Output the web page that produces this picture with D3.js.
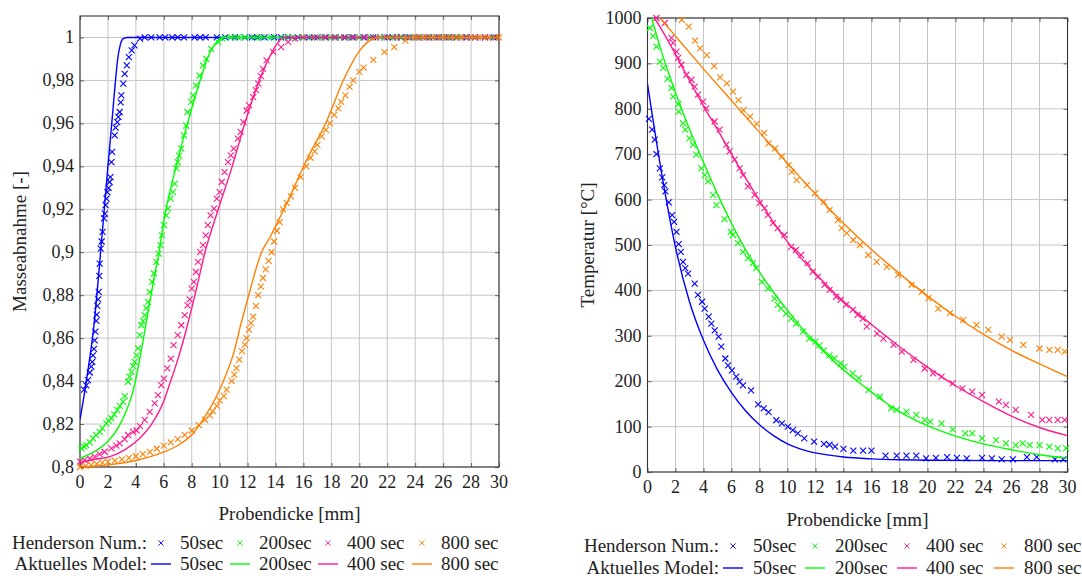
<!DOCTYPE html>
<html>
<head>
<meta charset="utf-8">
<script src="https://cdn.jsdelivr.net/npm/d3@7"></script>
<style>
  body { margin: 0; background: #fff; }
</style>
</head>
<body>
<div id="chart"></div>
<script>

// ---- data ----
var seriesNames = ["50sec", "200sec", "400 sec", "800 sec"];
var seriesColors = ["#0000ff", "#00ff00", "#ff1a8c", "#ff8000"];

var xTicks = [0, 2, 4, 6, 8, 10, 12, 14, 16, 18, 20, 22, 24, 26, 28, 30];
var massTicks = [0.8, 0.82, 0.84, 0.86, 0.88, 0.9, 0.92, 0.94, 0.96, 0.98, 1];
var massTickLabels = ["0,8", "0,82", "0,84", "0,86", "0,88", "0,9", "0,92", "0,94", "0,96", "0,98", "1"];
var tempTicks = [0, 100, 200, 300, 400, 500, 600, 700, 800, 900, 1000];

// Masseabnahme, Henderson numerisch
var mass50Num = [[0.29,0.836],[0.45,0.838],[0.57,0.8405],[0.7,0.844],[0.81,0.8467],[0.88,0.849],[0.93,0.852],[1.0,0.855],[1.05,0.859],[1.1,0.863],[1.17,0.868],[1.2,0.871],[1.24,0.875],[1.3,0.878],[1.34,0.8815],[1.38,0.889],[1.41,0.8947],[1.48,0.9017],[1.55,0.905],[1.62,0.9095],[1.72,0.9158],[1.78,0.918],[1.83,0.9219],[1.9,0.925],[1.96,0.928],[2.05,0.93],[2.12,0.9327],[2.18,0.935],[2.25,0.942],[2.3,0.9467],[2.48,0.9544],[2.55,0.958],[2.67,0.9606],[2.75,0.963],[2.84,0.9653],[2.91,0.9698],[2.96,0.973],[3.1,0.9785],[3.2,0.9831],[3.35,0.987],[3.5,0.9909],[3.7,0.994],[3.9,0.9963],[4.3,0.9995],
  [4.63,1.0],[5.1,1.0],[5.7,1.0],[6.1,1.0],[6.6,1.0],[7.0,1.0],[7.45,1.0],[8.2,1.0],[8.6,1.0],[9.0,1.0],[9.8,1.0],[10.4,1.0],[11.1,1.0],[11.8,1.0],[12.3,1.0],[12.7,1.0],[13.2,1.0],[13.9,1.0],[14.4,1.0],[14.9,1.0],[15.6,1.0],[16.4,1.0],[17.0,1.0],[17.6,1.0],[18.3,1.0],[19.0,1.0],[19.5,1.0],[20.3,1.0],[21.0,1.0],[21.8,1.0],[22.4,1.0],[23.0,1.0],[23.6,1.0],[24.3,1.0],[25.0,1.0],[25.7,1.0],[26.4,1.0],[27.0,1.0],[27.7,1.0],[28.3,1.0],[29.0,1.0],[29.6,1.0]];
var mass200Num = [[0.1,0.8087],[0.3,0.8095],[0.45,0.8102],[0.7,0.8115],[0.93,0.8133],[1.15,0.815],[1.41,0.8164],[1.6,0.818],[1.89,0.8203],[2.05,0.8215],[2.24,0.8227],[2.45,0.8245],[2.67,0.8265],[2.85,0.8285],[3.08,0.8304],[3.2,0.833],[3.44,0.8397],[3.55,0.842],[3.68,0.8443],[3.8,0.847],[3.92,0.849],[4.05,0.852],[4.15,0.8552],[4.27,0.8614],[4.39,0.866],[4.5,0.868],[4.63,0.8707],[4.75,0.874],[4.87,0.8769],[4.99,0.8815],[5.16,0.8862],[5.3,0.8901],[5.46,0.8955],[5.63,0.8994],[5.77,0.9033],[5.87,0.9079],[6.01,0.9126],[6.18,0.9172],[6.3,0.9203],[6.49,0.925],[6.66,0.928],[6.78,0.932],[6.9,0.939],[7.0,0.942],[7.1,0.945],[7.25,0.9482],[7.44,0.9544],[7.6,0.959],[7.7,0.9653],[7.96,0.97],[8.08,0.973],[8.3,0.9777],[8.56,0.9823],[8.8,0.987],[9.04,0.99],[9.4,0.9947],[9.9,0.9978],[10.2,0.9995],
  [10.83,1.0],[11.3,1.0],[11.8,1.0],[12.5,1.0],[13.0,1.0],[13.7,1.0],[14.65,1.0],[15.2,1.0],[15.9,1.0],[16.6,1.0],[17.3,1.0],[18.0,1.0],[18.6,1.0],[19.3,1.0],[20.0,1.0],[20.8,1.0],[21.5,1.0],[22.2,1.0],[22.9,1.0],[23.5,1.0],[24.2,1.0],[24.9,1.0],[25.6,1.0],[26.3,1.0],[27.0,1.0],[27.6,1.0],[28.3,1.0],[29.0,1.0],[29.7,1.0]];
var mass400Num = [[0.0,0.8025],[0.33,0.8033],[0.7,0.804],[1.05,0.8048],[1.4,0.806],[1.76,0.8071],[2.25,0.8087],[2.6,0.81],[2.84,0.811],[3.2,0.813],[3.44,0.8149],[3.8,0.8164],[4.05,0.817],[4.3,0.819],[4.63,0.8219],[4.99,0.8257],[5.35,0.8296],[5.58,0.8335],[5.82,0.8381],[6.01,0.8412],[6.25,0.8459],[6.5,0.8505],[6.7,0.8567],[7.0,0.8614],[7.25,0.866],[7.5,0.8707],[7.7,0.8753],[7.85,0.878],[8.0,0.8831],[8.15,0.8862],[8.3,0.8908],[8.45,0.8955],[8.6,0.9001],[8.8,0.9033],[9.0,0.9079],[9.15,0.9126],[9.35,0.9172],[9.6,0.9203],[9.8,0.925],[10.0,0.928],[10.15,0.9327],[10.35,0.9373],[10.6,0.942],[10.8,0.9451],[11.0,0.9482],[11.3,0.9529],[11.5,0.956],[11.7,0.9606],[11.93,0.966],[12.1,0.9684],[12.4,0.9722],[12.6,0.9755],[12.76,0.9785],[12.95,0.982],[13.1,0.9854],[13.36,0.9893],[13.84,0.9932],[14.4,0.9955],[14.9,0.998],[15.4,0.9995],
  [16.0,1.0],[16.8,1.0],[17.5,1.0],[18.2,1.0],[18.9,1.0],[19.6,1.0],[20.4,1.0],[21.2,1.0],[22.0,1.0],[22.7,1.0],[23.4,1.0],[24.1,1.0],[24.8,1.0],[25.5,1.0],[26.2,1.0],[26.9,1.0],[27.6,1.0],[28.3,1.0],[29.0,1.0],[29.8,1.0]];
var mass800Num = [[0.0,0.8],[0.4,0.8005],[0.8,0.801],[1.2,0.8015],[1.6,0.802],[2.0,0.8025],[2.5,0.803],[3.0,0.8035],[3.5,0.8042],[4.0,0.805],[4.5,0.806],[5.0,0.807],[5.5,0.8085],[6.0,0.81],[6.5,0.8115],[7.0,0.813],[7.5,0.815],[8.0,0.817],[8.5,0.8195],[8.95,0.822],[9.3,0.824],[9.5,0.826],[9.8,0.8285],[10.0,0.831],[10.3,0.833],[10.5,0.836],[10.86,0.84],[11.05,0.843],[11.2,0.846],[11.4,0.85],[11.6,0.854],[11.8,0.857],[11.93,0.86],[12.1,0.864],[12.25,0.867],[12.4,0.87],[12.6,0.875],[12.76,0.88],[12.95,0.884],[13.1,0.888],[13.3,0.892],[13.5,0.896],[13.72,0.9],[13.9,0.905],[14.1,0.91],[14.3,0.914],[14.55,0.92],[14.8,0.923],[15.1,0.926],[15.4,0.93],[15.8,0.935],[16.2,0.94],[16.5,0.944],[16.8,0.947],[17.0,0.95],[17.3,0.954],[17.6,0.957],[17.9,0.96],[18.2,0.964],[18.5,0.967],[18.7,0.97],[19.0,0.973],[19.3,0.977],[19.56,0.98],[20.0,0.984],[20.3,0.986],[21.0,0.9896],[21.8,0.9932],[22.5,0.9955],[23.3,0.9985],[24.0,1.0],
  [24.6,1.0],[25.2,1.0],[25.9,1.0],[26.5,1.0],[27.2,1.0],[27.9,1.0],[28.5,1.0],[29.2,1.0],[30.0,1.0]];

// Masseabnahme, aktuelles Modell
var mass50Model = [[0,0.822],[0.5,0.842],[1,0.866],[1.5,0.902],[2,0.94],[2.3,0.962],[2.5,0.977],[2.7,0.99],[2.9,0.997],[3.1,0.9995],[3.4,1.0],[30,1.0]];
var mass200Model = [[0,0.804],[1,0.807],[2,0.812],[2.8,0.819],[3.3,0.826],[3.7,0.833],[4.0,0.841],[4.3,0.851],[4.6,0.862],[5.0,0.877],[5.3,0.888],[5.66,0.9],[6.04,0.916],[6.5,0.93],[6.92,0.941],[7.7,0.96],[8.6,0.98],[9.3,0.993],[9.8,0.998],[10.2,1.0],[30,1.0]];
var mass400Model = [[0,0.802],[1,0.8035],[2.15,0.8048],[3.2,0.808],[4.3,0.8135],[5.13,0.82],[5.96,0.83],[6.44,0.839],[7.0,0.85],[7.57,0.863],[8.23,0.88],[8.95,0.9],[9.9,0.92],[10.9,0.94],[11.8,0.96],[12.84,0.98],[13.5,0.99],[14.0,0.996],[14.6,1.0],[30,1.0]];
var mass800Model = [[0,0.8],[2,0.801],[4,0.803],[6,0.807],[7,0.81],[8,0.815],[9,0.824],[9.7,0.832],[10.33,0.841],[11.0,0.853],[11.5,0.866],[12.0,0.878],[12.5,0.89],[13,0.9],[13.6,0.907],[14.3,0.916],[15.03,0.926],[16.23,0.943],[17.66,0.961],[18.85,0.98],[20.04,0.994],[21,0.9994],[21.5,1.0],[30,1.0]];

// Temperatur, Henderson numerisch
var temp50Num = [[0.1,778],[0.33,754],[0.52,732],[0.64,700],[0.88,669],[1.05,649],[1.19,632],[1.28,618],[1.52,594],[1.76,566],[1.9,551],[2.07,529],[2.23,502],[2.38,485],[2.54,463],[2.7,449],[2.9,437],[3.37,415],[3.6,390],[3.9,375],[4.08,360],[4.37,342],[4.56,327],[4.8,312],[5.08,298],[5.27,276],[5.56,250],[5.75,235],[6.03,224],[6.34,210],[6.58,199],[6.82,191],[7.4,180],[7.9,149],[8.3,140],[8.65,132],[9.2,114],[9.6,107],[10.02,100],[10.38,92],[10.74,85],[11.2,74],[11.9,67],[12.6,62],[13.0,60],[13.4,56],[14.0,51],[14.7,47],[15.4,47],[16.0,47],[17.0,36],[17.8,36],[18.5,36],[19.2,36],[19.9,30],[20.6,31],[21.4,33],[22.1,31],[22.8,30],[23.9,31],[24.6,30],[25.3,28],[26.1,28],[27.1,33],[27.8,33],[29.1,28],[29.7,28]];
var temp200Num = [[0.17,978],[0.4,960],[0.64,937],[0.88,904],[1.12,890],[1.43,866],[1.71,846],[1.83,827],[2.19,810],[2.23,794],[2.54,768],[2.7,754],[3.0,735],[3.25,721],[3.49,699],[3.85,669],[4.09,654],[4.32,640],[4.68,610],[4.92,588],[5.5,557],[5.94,529],[6.1,522],[6.46,504],[6.82,485],[7.17,471],[7.53,460],[7.77,449],[8.17,419],[8.6,404],[9.07,382],[9.3,368],[9.55,360],[9.9,349],[10.26,338],[10.6,327],[11.1,309],[11.56,294],[12.0,287],[12.28,279],[12.6,268],[13.0,257],[13.35,250],[13.8,239],[14.06,232],[14.66,217],[15.1,206],[15.8,181],[16.6,166],[17.4,140],[17.8,137],[18.5,133],[19.2,126],[19.8,115],[20.2,111],[21.0,107],[21.8,94],[22.7,85],[23.2,85],[23.9,74],[24.9,70],[25.6,63],[26.3,59],[26.8,63],[27.3,59],[28.0,59],[28.7,56],[29.3,52],[29.9,52]];
var temp400Num = [[0.64,1000],[1.24,989],[1.71,956],[1.83,945],[2.07,926],[2.19,912],[2.42,897],[2.78,875],[3.14,864],[3.37,849],[3.61,831],[3.97,816],[4.2,801],[4.8,772],[5.15,754],[5.63,721],[5.87,706],[6.22,688],[6.58,669],[6.82,654],[7.17,629],[7.65,610],[8.0,592],[8.36,581],[8.6,566],[8.95,548],[9.3,537],[9.78,522],[10.26,496],[10.6,489],[10.97,478],[11.44,460],[11.8,441],[12.16,430],[12.64,412],[13.0,401],[13.47,386],[13.8,379],[14.18,368],[14.66,357],[15.0,346],[15.37,338],[15.66,320],[16.4,305],[16.85,294],[17.57,280],[18.16,265],[19.0,247],[19.8,228],[20.4,217],[21.0,210],[21.8,195],[22.5,184],[23.2,177],[23.9,170],[25.1,155],[25.6,148],[26.3,137],[27.4,126],[28.2,115],[28.7,115],[29.3,115],[29.8,115]];
var temp800Num = [[2.45,996],[2.95,981],[3.4,950],[3.76,933],[4.24,918],[4.76,894],[5.19,869],[5.67,856],[6.1,838],[6.5,819],[6.86,797],[7.33,783],[7.81,767],[8.33,747],[8.64,724],[9.12,713],[9.6,695],[10.07,676],[10.3,661],[10.66,643],[11.38,632],[11.97,614],[12.6,595],[13.0,577],[13.6,555],[13.87,537],[14.23,526],[14.7,511],[15.18,500],[15.77,478],[16.37,463],[17.1,452],[17.9,434],[18.86,412],[19.6,397],[20.06,383],[20.77,360],[21.6,350],[22.56,335],[23.5,324],[24.34,313],[25.3,298],[25.9,291],[26.84,280],[28.0,272],[28.7,269],[29.3,269],[29.8,265]];

// Temperatur, aktuelles Modell
var temp50Model = [[0,855],[1,660],[2,495],[3,375],[4,290],[5,225],[6,175],[7,135],[8,104],[9,80],[10,62],[11,50],[12,42],[14,33],[16,29],[18,27],[20,26],[25,25],[30,25]];
var temp200Model = [[0.29,1000],[1,926],[2,836],[3,755],[4,682],[5,612],[6,548],[7,490],[8,440],[9,396],[10,356],[11,318],[12,284],[13,253],[14,225],[15,200],[16,176],[17,153],[18,133],[20,102],[22,79],[24,62],[26,49],[28,38],[30,30]];
var temp400Model = [[0.5,1000],[1,975],[2,920],[3,862],[4,806],[5,754],[6,700],[7,648],[8,598],[9,550],[10,507],[11,470],[12,437],[13,405],[14,376],[15,350],[16,325],[18,276],[20,231],[22,190],[24,155],[26,123],[28,98],[30,80]];
var temp800Model = [[0.9,1000],[2,960],[4,888],[6,818],[8,748],[10,680],[12,612],[14,548],[16,490],[18,437],[20,388],[22,343],[24,303],[26,268],[28,238],[30,210]];

// ---- layout ----
var W = 1082, H = 579;
var font = "'Liberation Serif', 'Times New Roman', 'DejaVu Serif', serif";
var svg = d3.select("#chart").append("svg").attr("width", W).attr("height", H)
  .attr("font-family", font);

var panels = [
  { x0: 80, x1: 499, yTop: 16, yBot: 467, yDomain: [0.8, 1.01], yTicks: massTicks,
    yFmt: function(d, i) { return massTickLabels[i]; }, ylabel: "Masseabnahme [-]", ylabelX: 26,
    num: [mass50Num, mass200Num, mass400Num, mass800Num],
    model: [mass50Model, mass200Model, mass400Model, mass800Model],
    legLabelX: 147, legMarkX: [161, 240, 328, 422], legTextX: [180, 259, 347, 441], legY: [549, 570], xlabelY: 520 },
  { x0: 647.5, x1: 1067.5, yTop: 18, yBot: 472, yDomain: [0, 1000], yTicks: tempTicks,
    yFmt: function(d) { return d; }, ylabel: "Temperatur [°C]", ylabelX: 594,
    num: [temp50Num, temp200Num, temp400Num, temp800Num],
    model: [temp50Model, temp200Model, temp400Model, temp800Model],
    legLabelX: 719, legMarkX: [733, 815, 907, 1004], legTextX: [753, 835, 926, 1024], legY: [552, 574], xlabelY: 526 }
];

var cross = "M-3,-3L3,3M-3,3L3,-3";

panels.forEach(function(p, pi) {
  var x = d3.scaleLinear().domain([0, 30]).range([p.x0, p.x1]);
  var y = d3.scaleLinear().domain(p.yDomain).range([p.yBot, p.yTop]);
  var g = svg.append("g");

  // grid
  g.selectAll(".vg").data(xTicks).enter().append("line")
    .attr("x1", function(d) { return x(d); }).attr("x2", function(d) { return x(d); })
    .attr("y1", p.yTop).attr("y2", p.yBot)
    .attr("stroke", "#c6c6c6").attr("stroke-width", 1);
  g.selectAll(".hg").data(p.yTicks).enter().append("line")
    .attr("y1", function(d) { return y(d); }).attr("y2", function(d) { return y(d); })
    .attr("x1", p.x0).attr("x2", p.x1)
    .attr("stroke", "#c6c6c6").attr("stroke-width", 1);

  // ticks inside, all four sides
  var tk = function(axis) { return axis.tickSizeInner(-4).tickSizeOuter(0).tickFormat(""); };
  g.append("g").attr("transform", "translate(0," + p.yBot + ")").call(tk(d3.axisBottom(x).tickValues(xTicks)));
  g.append("g").attr("transform", "translate(0," + p.yTop + ")").call(tk(d3.axisTop(x).tickValues(xTicks)));
  g.append("g").attr("transform", "translate(" + p.x0 + ",0)").call(tk(d3.axisLeft(y).tickValues(p.yTicks)));
  g.append("g").attr("transform", "translate(" + p.x1 + ",0)").call(tk(d3.axisRight(y).tickValues(p.yTicks)));
  g.selectAll(".domain").remove();
  g.selectAll(".tick line").attr("stroke", "#444").attr("stroke-width", 0.8);

  // frame
  g.append("rect").attr("x", p.x0).attr("y", p.yTop)
    .attr("width", p.x1 - p.x0).attr("height", p.yBot - p.yTop)
    .attr("fill", "none").attr("stroke", "#333").attr("stroke-width", 1.1);

  // tick labels
  g.selectAll(".xl").data(xTicks).enter().append("text")
    .attr("x", function(d) { return x(d); }).attr("y", p.yBot + 21)
    .attr("text-anchor", "middle").attr("font-size", 18).attr("fill", "#222")
    .text(function(d) { return d; });
  g.selectAll(".yl").data(p.yTicks).enter().append("text")
    .attr("x", p.x0 - 6).attr("y", function(d) { return y(d) + 6; })
    .attr("text-anchor", "end").attr("font-size", 18).attr("fill", "#222").text(p.yFmt);

  // axis titles
  g.append("text").attr("x", (p.x0 + p.x1) / 2).attr("y", p.xlabelY)
    .attr("text-anchor", "middle").attr("font-size", 19).attr("fill", "#222").text("Probendicke [mm]");
  g.append("text").attr("transform", "translate(" + p.ylabelX + "," + ((p.yTop + p.yBot) / 2) + ") rotate(-90)")
    .attr("text-anchor", "middle").attr("font-size", 19).attr("fill", "#222").text(p.ylabel);

  // clip for model lines
  var clipId = "clip" + pi;
  svg.append("clipPath").attr("id", clipId).append("rect")
    .attr("x", p.x0).attr("y", p.yTop).attr("width", p.x1 - p.x0).attr("height", p.yBot - p.yTop);

  var line = d3.line().x(function(d) { return x(d[0]); }).y(function(d) { return y(d[1]); })
    .curve(d3.curveMonotoneX);

  // markers
  p.num.forEach(function(ser, si) {
    g.append("g").selectAll("path").data(ser).enter().append("path")
      .attr("d", cross)
      .attr("transform", function(d) { return "translate(" + x(d[0]) + "," + y(d[1]) + ")"; })
      .attr("stroke", seriesColors[si]).attr("stroke-width", 1.1).attr("fill", "none");
  });

  // model lines
  p.model.forEach(function(ser, si) {
    g.append("path").datum(ser).attr("d", line)
      .attr("clip-path", "url(#" + clipId + ")")
      .attr("fill", "none").attr("stroke", seriesColors[si]).attr("stroke-width", 1.4);
  });

  // legend
  var leg = svg.append("g").attr("font-size", 19).attr("fill", "#222");
  leg.append("text").attr("x", p.legLabelX).attr("y", p.legY[0]).attr("text-anchor", "end")
    .text("Henderson Num.:");
  leg.append("text").attr("x", p.legLabelX).attr("y", p.legY[1]).attr("text-anchor", "end")
    .text("Aktuelles Model:");
  seriesNames.forEach(function(name, si) {
    leg.append("path").attr("d", "M-2.6,-2.6L2.6,2.6M-2.6,2.6L2.6,-2.6")
      .attr("transform", "translate(" + p.legMarkX[si] + "," + (p.legY[0] - 6) + ")")
      .attr("stroke", seriesColors[si]).attr("stroke-width", 0.9);
    leg.append("line").attr("x1", p.legMarkX[si] - 10).attr("x2", p.legMarkX[si] + 10)
      .attr("y1", p.legY[1] - 6).attr("y2", p.legY[1] - 6)
      .attr("stroke", seriesColors[si]).attr("stroke-width", 1.4);
    leg.append("text").attr("x", p.legTextX[si]).attr("y", p.legY[0]).text(name);
    leg.append("text").attr("x", p.legTextX[si]).attr("y", p.legY[1]).text(name);
  });
});

</script>
</body>
</html>
